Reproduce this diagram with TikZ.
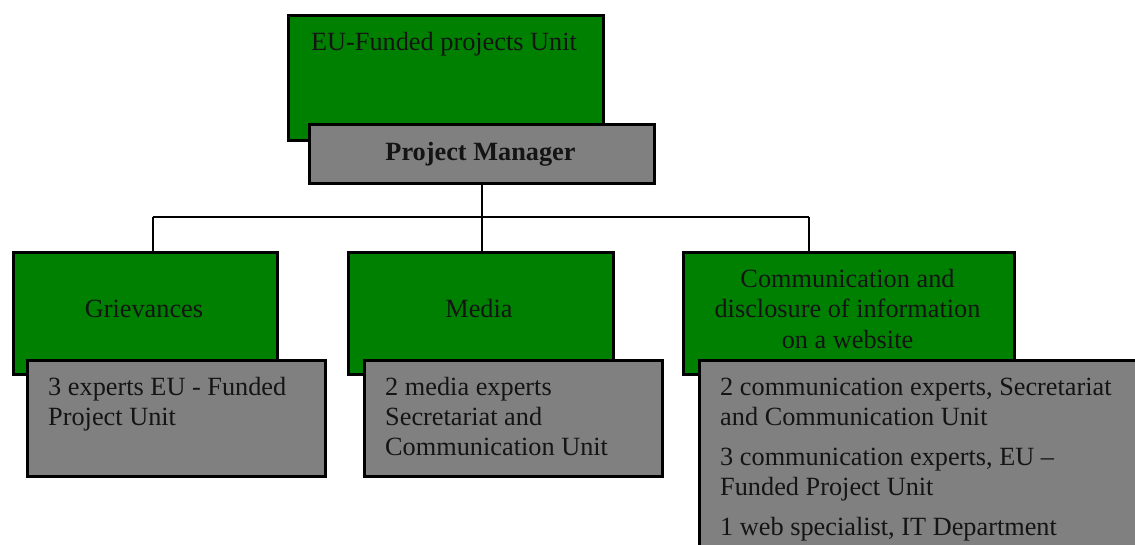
\documentclass[tikz,border=0pt]{standalone}
\usepackage{fontspec}
\setmainfont{Liberation Serif}
\definecolor{boxgreen}{HTML}{008000}
\definecolor{boxgray}{HTML}{808080}
\tikzset{
  greenbox/.style={draw=black, line width=2.6pt, fill=boxgreen, anchor=north west, inner sep=0pt},
  graybox/.style={draw=black, line width=2.6pt, fill=boxgray, anchor=north west, inner sep=0pt},
  conn/.style={draw=black, line width=2pt},
  lbl/.style={inner sep=0pt, font=\fontsize{26.3}{30}\selectfont, text=black!92},
  lblc/.style={lbl, anchor=base},
  lbll/.style={lbl, anchor=base west},
}
\begin{document}
\begin{tikzpicture}[x=1pt, y=-1pt]
\clip (0,0) rectangle (1135,545);
\useasboundingbox (0,0) rectangle (1135,545);
% top
\node[greenbox, minimum width=315pt, minimum height=125pt] (unit) at (287.3,14.3) {};
\node[graybox, minimum width=345pt, minimum height=59pt] (pm) at (308.3,123.3) {};
\node[lblc] (unitT) at (444,51) {EU-Funded projects Unit};
\node[lblc, font=\fontsize{26.3}{30}\selectfont\bfseries] (pmT) at (480.5,161) {Project Manager};
% second level green boxes
\node[greenbox, minimum width=264pt, minimum height=122pt] (g1) at (12.3,251.3) {};
\node[greenbox, minimum width=265pt, minimum height=122pt] (g2) at (347.3,251.3) {};
\node[greenbox, minimum width=331pt, minimum height=122pt] (g3) at (682.3,251.3) {};
% connectors
\coordinate (j) at (481.5,217);
\coordinate (c1) at (152.5,217);
\coordinate (c3) at (808.5,217);
\draw[conn] (pm.south -| j) -- (j);
\draw[conn] (c1) -- (c3);
\draw[conn] (c1) -- (c1 |- g1.north);
\draw[conn] (j) -- (j |- g2.north);
\draw[conn] (c3) -- (c3 |- g3.north);
% green labels
\node[lblc] (g1T) at (144,318) {Grievances};
\node[lblc] (g2T) at (479,318) {Media};
\node[lblc] (g3Ta) at (847.5,288) {Communication and};
\node[lblc] (g3Tb) at (847.5,318) {disclosure of information};
\node[lblc] (g3Tc) at (847.5,348) {on a website};
% gray boxes
\node[graybox, minimum width=298pt, minimum height=116pt] (s1) at (26.3,359.3) {};
\node[graybox, minimum width=298pt, minimum height=116pt] (s2) at (363.3,359.3) {};
\node[graybox, minimum width=460pt, minimum height=200pt] (s3) at (698.3,359.3) {};
% gray labels
\node[lbll] (s1a) at (48,395) {3 experts EU - Funded};
\node[lbll] (s1b) at (48,425) {Project Unit};
\node[lbll] (s2a) at (385,395) {2 media experts};
\node[lbll] (s2b) at (385,425) {Secretariat and};
\node[lbll] (s2c) at (385,455) {Communication Unit};
\node[lbll] (s3a) at (720,395) {2 communication experts, Secretariat};
\node[lbll] (s3b) at (720,425) {and Communication Unit};
\node[lbll] (s3c) at (720,465) {3 communication experts, EU –};
\node[lbll] (s3d) at (720,495) {Funded Project Unit};
\node[lbll] (s3e) at (720,535) {1 web specialist, IT Department};
\end{tikzpicture}
\end{document}
